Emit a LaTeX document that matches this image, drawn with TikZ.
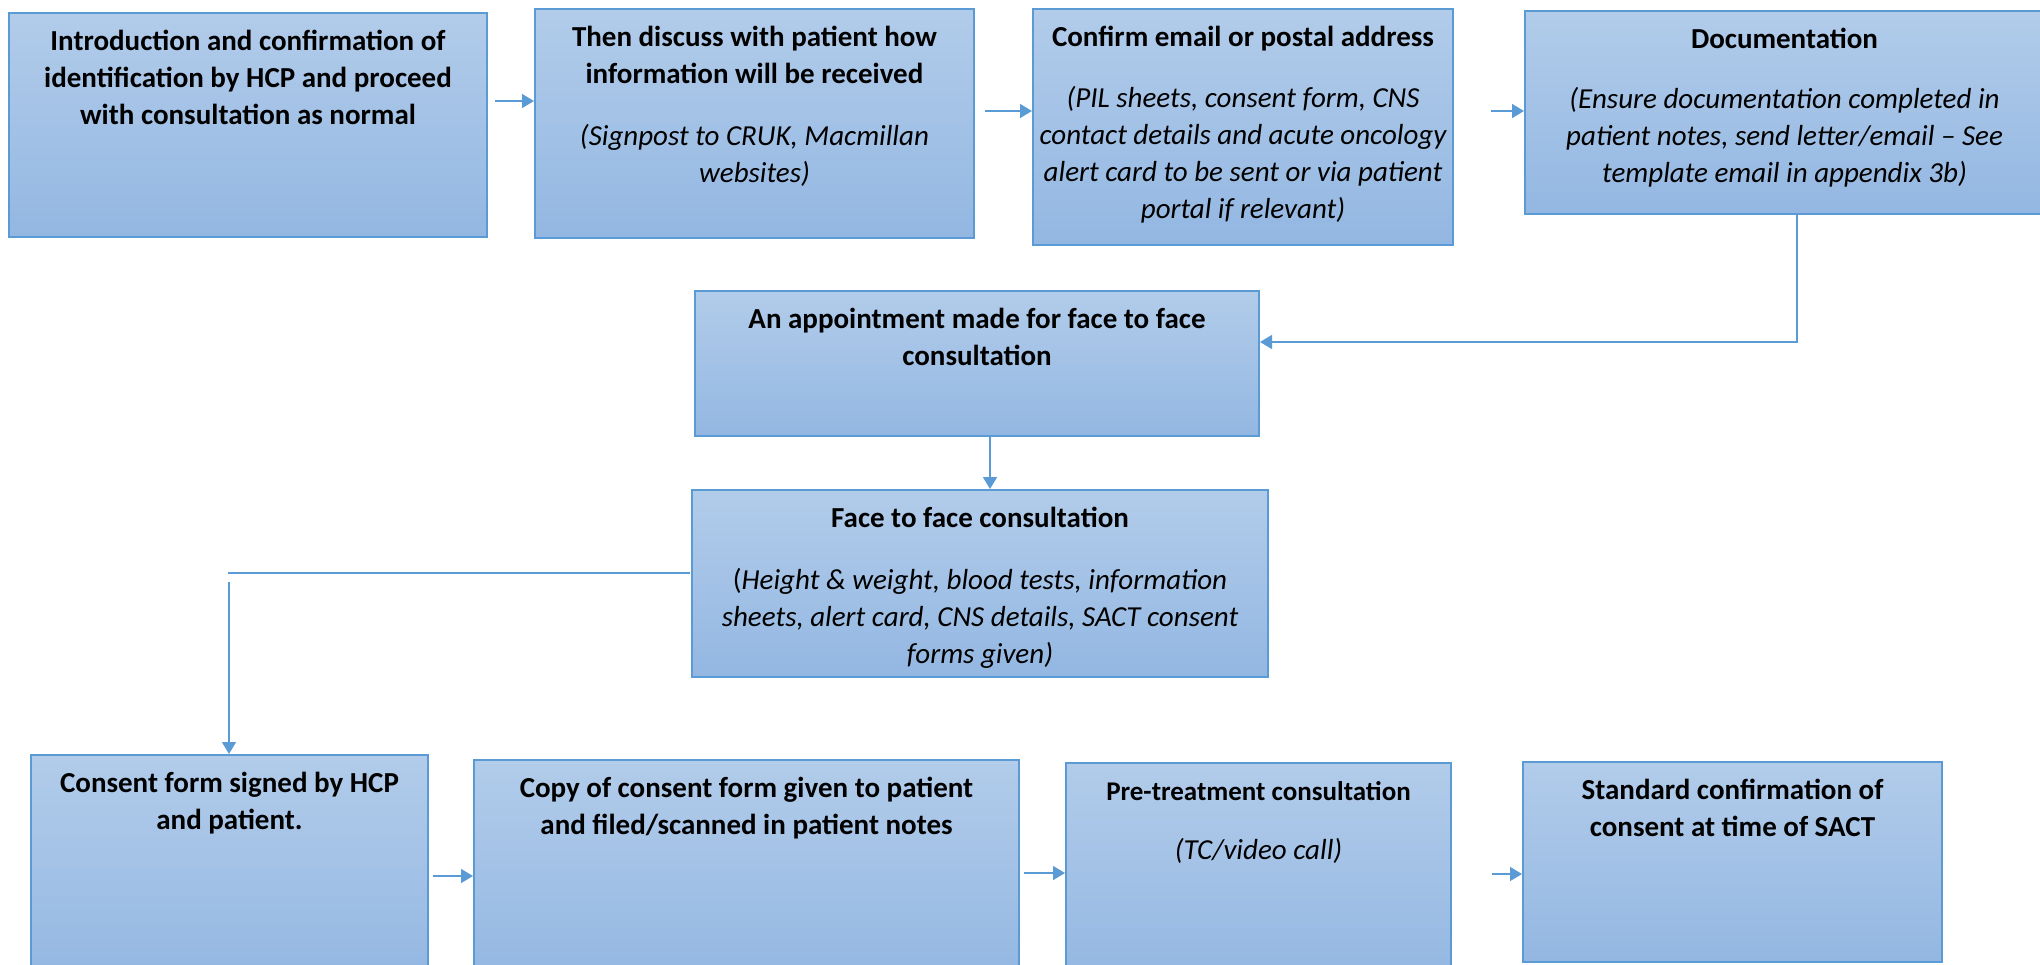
\documentclass[tikz,border=0pt]{standalone}
\usepackage{fontspec}
\setmainfont{Carlito}
\usetikzlibrary{arrows.meta}
\definecolor{edge}{HTML}{5B9BD5}
\definecolor{ftop}{HTML}{B2CCEA}
\definecolor{fbot}{HTML}{93B7E2}
\newcommand{\myb}{\fontsize{14.5}{18.5}\selectfont\bfseries}
\newcommand{\myi}{\fontsize{14.5}{19}\selectfont\itshape}
\newcommand{\myit}{\fontsize{14.5}{16.5}\selectfont\itshape}
\begin{document}
\begin{tikzpicture}[x=0.5pt,y=-0.5pt,
  box/.style={draw=edge, line width=1pt, top color=ftop, bottom color=fbot, inner sep=0pt},
  txt/.style={anchor=north, align=center, inner sep=0pt, font=\fontsize{14.5}{18.5}\selectfont},
  arr/.style={draw=edge, line width=0.75pt, -{Triangle[length=6pt,width=7pt]}},
  ln/.style={draw=edge, line width=0.75pt}]
\clip (0,0) rectangle (2040,964);
\fill[white] (0,0) rectangle (2040,964);

% boxes
\node[box, minimum width=239pt,   minimum height=112pt]   (b1)  at (248,125) {};
\node[box, minimum width=219.5pt, minimum height=114.5pt] (b2)  at (754.5,123.5) {};
\node[box, minimum width=210pt,   minimum height=118pt]   (b3)  at (1243,127) {};
\node[box, minimum width=259.5pt, minimum height=101.5pt] (b4)  at (1784.5,112.5) {};
\node[box, minimum width=282pt,   minimum height=72.5pt]  (b5)  at (977,363.5) {};
\node[box, minimum width=288pt,   minimum height=93.5pt]  (b6)  at (980,583.5) {};
\node[box, minimum width=198.5pt, minimum height=112.5pt] (b7)  at (229.5,867.5) {};
\node[box, minimum width=272.5pt, minimum height=110pt]   (b8)  at (746.5,870) {};
\node[box, minimum width=192.5pt, minimum height=108.5pt] (b9)  at (1258.5,871.5) {};
\node[box, minimum width=209.5pt, minimum height=100pt]   (b10) at (1732.5,862) {};

% texts
\node[txt] (t1) at ([yshift=-6pt]b1.north) {\myb\strut Introduction and confirmation of\\\myb identification by HCP and proceed\\\myb with consultation as normal};
\node[txt] (t2) at ([yshift=-6pt]b2.north) {\myb\strut Then discuss with patient how\\\myb information will be received\\[12.5pt]\myi (Signpost to CRUK, Macmillan\\\myi websites)};
\node[txt] (t3) at ([yshift=-6pt]b3.north) {\myb\strut Confirm email or postal address\\[12pt]\myi (PIL sheets, consent form, CNS\\\myi contact details and acute oncology\\\myi alert card to be sent or via patient\\\myi portal if relevant)};
\node[txt] (t4) at ([yshift=-6pt]b4.north) {\myb\strut Documentation\\[11.5pt]\myi (Ensure documentation completed in\\\myi patient notes, send letter/email – See\\\myi template email in appendix 3b)};
\node[txt] (t5) at ([yshift=-6pt]b5.north) {\myb\strut An appointment made for face to face\\\myb consultation};
\node[txt] (t6) at ([yshift=-6pt]b6.north) {\myb\strut Face to face consultation\\[12.5pt]\fontsize{14.5}{16.5}\selectfont(\textit{Height \& weight, blood tests, information}\\\myit sheets, alert card, CNS details, SACT consent\\\myit forms given)};
\node[txt] (t7) at ([yshift=-6pt]b7.north) {\myb\strut Consent form signed by HCP\\\myb and patient.};
\node[txt] (t8) at ([yshift=-6pt]b8.north) {\myb\strut Copy of consent form given to patient\\\myb and filed/scanned in patient notes};
\node[txt] (t9) at ([yshift=-6pt]b9.north) {\fontsize{13.5}{18.5}\selectfont\bfseries\strut Pre-treatment consultation\\[11pt]\myi (TC/video call)};
\node[txt] (t10) at ([yshift=-6pt]b10.north) {\myb\strut Standard confirmation of\\\myb consent at time of SACT};

% connector points
\coordinate (s12) at (495,101);
\coordinate (s23) at (985,111);
\coordinate (s34) at (1491,111);
\coordinate (k4) at (1797,342);
\coordinate (k5) at (990,0);
\coordinate (c6) at (690,573);
\coordinate (c7) at (228,573);
\coordinate (c8) at (229,582);
\coordinate (s78) at (433,876);
\coordinate (s89) at (1024,873);
\coordinate (s910) at (1492,874);

% connectors
\draw[arr] (s12) -- (s12 -| b2.west);
\draw[arr] (s23) -- (s23 -| b3.west);
\draw[arr] (s34) -- (s34 -| b4.west);
\draw[arr] (k4 |- b4.south) -- (k4) -- (k4 -| b5.east);
\draw[arr] (k5 |- b5.south) -- (k5 |- b6.north);
\draw[ln] (c6) -- (c7);
\draw[arr] (c8) -- (c8 |- b7.north);
\draw[arr] (s78) -- (s78 -| b8.west);
\draw[arr] (s89) -- (s89 -| b9.west);
\draw[arr] (s910) -- (s910 -| b10.west);
\end{tikzpicture}
\end{document}
